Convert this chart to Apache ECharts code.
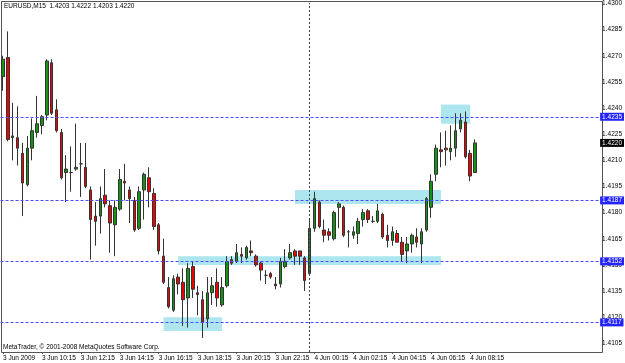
<!DOCTYPE html>
<html><head><meta charset="utf-8">
<script src="https://cdn.jsdelivr.net/npm/echarts@6/dist/echarts.min.js"></script>
<style>html,body{margin:0;padding:0;background:#fff}#c{width:625px;height:363px}</style>
</head><body><div id="c"></div>
<script>
const symbol = 'EURUSD,M15';
const startLabel = '3 Jun 2009';
const copyright = 'MetaTrader, \u00a9 2001-2008 MetaQuotes Software Corp.';

const opens = [1.4258,1.4269,1.4223,1.4223,1.4214,1.4196,1.4217,1.4226,1.4230,1.4236,
1.4266,1.4239,1.4226,1.4203,1.4203,1.4205,1.4208,1.4206,1.4193,1.4178,
1.4178,1.4190,1.4184,1.4173,1.4182,1.4198,1.4193,1.4187,1.4171,1.4193,
1.4200,1.4191,1.4173,1.4155,1.4137,1.4124,1.4143,1.4140,1.4131,1.4149,
1.4134,1.4130,1.4119,1.4134,1.4140,1.4127,1.4138,1.4153,1.4152,1.4156,
1.4154,1.4158,1.4155,1.4151,1.4144,1.4145,1.4139,1.4139,1.4149,1.4154,
1.4158,1.4158,1.4154,1.4145,1.4171,1.4186,1.4170,1.4169,1.4165,1.4183,
1.4183,1.4169,1.4167,1.4168,1.4176,1.4181,1.4175,1.4175,1.4179,1.4167,
1.4164,1.4168,1.4163,1.4158,1.4162,1.4166,1.4162,1.4170,1.4183,1.4202,
1.4216,1.4217,1.4215,1.4217,1.4228,1.4232,1.4214,1.4203];
const highs = [1.4270,1.4284,1.4243,1.4241,1.4220,1.4224,1.4234,1.4247,1.4236,1.4268,
1.4268,1.4245,1.4228,1.4213,1.4218,1.4231,1.4220,1.4220,1.4195,1.4186,
1.4195,1.4205,1.4187,1.4187,1.4205,1.4208,1.4195,1.4189,1.4195,1.4203,
1.4206,1.4194,1.4174,1.4165,1.4143,1.4144,1.4145,1.4148,1.4151,1.4152,
1.4138,1.4135,1.4143,1.4143,1.4148,1.4143,1.4155,1.4155,1.4162,1.4160,
1.4161,1.4164,1.4156,1.4152,1.4147,1.4146,1.4143,1.4154,1.4159,1.4162,
1.4159,1.4158,1.4155,1.4176,1.4192,1.4187,1.4176,1.4171,1.4181,1.4186,
1.4184,1.4170,1.4172,1.4177,1.4182,1.4182,1.4178,1.4185,1.4180,1.4173,
1.4172,1.4170,1.4166,1.4166,1.4168,1.4171,1.4171,1.4189,1.4202,1.4219,
1.4226,1.4227,1.4230,1.4237,1.4237,1.4238,1.4216,1.4222];
const lows = [1.4250,1.4221,1.4210,1.4207,1.4178,1.4195,1.4210,1.4223,1.4225,1.4233,
1.4236,1.4226,1.4199,1.4186,1.4192,1.4204,1.4189,1.4194,1.4153,1.4161,
1.4168,1.4183,1.4157,1.4155,1.4181,1.4187,1.4174,1.4169,1.4170,1.4176,
1.4183,1.4170,1.4156,1.4139,1.4125,1.4123,1.4133,1.4115,1.4114,1.4131,
1.4121,1.4108,1.4114,1.4127,1.4126,1.4126,1.4137,1.4150,1.4151,1.4151,
1.4153,1.4155,1.4149,1.4141,1.4139,1.4142,1.4136,1.4137,1.4148,1.4153,
1.4150,1.4150,1.4135,1.4144,1.4169,1.4171,1.4163,1.4164,1.4164,1.4171,
1.4166,1.4160,1.4165,1.4162,1.4172,1.4174,1.4174,1.4174,1.4165,1.4160,
1.4161,1.4163,1.4152,1.4151,1.4157,1.4160,1.4151,1.4169,1.4177,1.4198,
1.4206,1.4207,1.4210,1.4212,1.4226,1.4211,1.4198,1.4203];
const closes = [1.4268,1.4222,1.4224,1.4217,1.4197,1.4217,1.4227,1.4231,1.4235,1.4267,
1.4237,1.4227,1.4200,1.4205,1.4203,1.4206,1.4208,1.4195,1.4176,1.4175,
1.4188,1.4185,1.4174,1.4183,1.4199,1.4197,1.4188,1.4170,1.4192,1.4202,
1.4192,1.4172,1.4158,1.4140,1.4126,1.4142,1.4139,1.4130,1.4148,1.4136,
1.4133,1.4117,1.4134,1.4138,1.4131,1.4137,1.4152,1.4151,1.4157,1.4155,
1.4160,1.4157,1.4150,1.4147,1.4144,1.4143,1.4138,1.4152,1.4152,1.4157,
1.4155,1.4155,1.4141,1.4171,1.4188,1.4172,1.4167,1.4167,1.4180,1.4185,
1.4167,1.4169,1.4169,1.4175,1.4180,1.4176,1.4175,1.4181,1.4166,1.4164,
1.4169,1.4163,1.4156,1.4162,1.4167,1.4163,1.4169,1.4188,1.4198,1.4217,
1.4215,1.4216,1.4217,1.4227,1.4233,1.4212,1.4201,1.4220];

const yTickLabels = ['1.4105','1.4120','1.4135','1.4150','1.4165','1.4180','1.4195','1.4210','1.4225','1.4240','1.4255','1.4270','1.4285','1.4300'];
const levels = [1.4235, 1.4187, 1.4152, 1.4117];
const zoneStart = ['4 Jun 06:45', '3 Jun 23:15', '3 Jun 17:15', '3 Jun 16:30'];
const zoneEnd   = ['4 Jun 08:15', '4 Jun 06:45', '4 Jun 06:45', '3 Jun 19:30'];
const zoneTop   = [1.4242, 1.4193, 1.4155, 1.4120];
const zoneBottom= [1.4231, 1.4185, 1.4150, 1.4112];
const separatorTime = '4 Jun 00:00';

const N_SLOTS = 123;
const times = [];
const t0 = Date.UTC(2009, 5, 3, 8, 15);
for (let i = 0; i < N_SLOTS; i++) {
  const d = new Date(t0 + i * 900000);
  times.push(d.getUTCDate() + ' Jun ' + String(d.getUTCHours()).padStart(2, '0') + ':' + String(d.getUTCMinutes()).padStart(2, '0'));
}
const candles = opens.map((o, i) => [o, closes[i], lows[i], highs[i]]);
const last = opens.length - 1;
const header = symbol + '  ' + [opens[last], highs[last], lows[last], closes[last]].map(v => v.toFixed(4)).join(' ');

const FONT = '"Liberation Sans", Arial, sans-serif';
const FS = 6.5;
const lblBase = {fontFamily: FONT, fontSize: FS, color: '#000'};

const chart = echarts.init(document.getElementById('c'), null, {renderer: 'canvas', width: 625, height: 363});
const showIdx = (i) => i % 8 === 0 && i <= last;

const priceLabel = (val, bg) => ({show: true, position: 'end', distance: 1, formatter: () => val.toFixed(4),
  backgroundColor: bg, color: '#fff', padding: [1, 2, 0, 2], fontFamily: FONT, fontSize: FS});

const lineData = levels.map(l => ({
  yAxis: l,
  lineStyle: {color: '#4b4bff', type: [3, 2], width: 1},
  label: priceLabel(l, '#2323ff')
}));
lineData.push({yAxis: closes[last], lineStyle: {color: 'rgba(0,0,0,0)', width: 1}, label: priceLabel(closes[last], '#000')});
lineData.push({xAxis: separatorTime, lineStyle: {color: '#444', type: [2, 2], width: 1}, label: {show: false}});

chart.setOption({
  animation: false,
  backgroundColor: '#fff',
  title: [
    {text: header, left: 4, top: 3, padding: 0, textStyle: Object.assign({fontWeight: 'normal'}, lblBase)},
    {text: copyright, left: 3, top: 344, padding: 0, textStyle: Object.assign({fontWeight: 'normal'}, lblBase)}
  ],
  grid: {left: -0.5, right: 21.5, top: 1.5, bottom: 11},
  xAxis: {
    type: 'category', data: times, boundaryGap: true,
    axisLine: {show: false},
    axisTick: {show: true, alignWithLabel: true, length: 2, interval: showIdx, lineStyle: {color: '#555'}},
    axisLabel: Object.assign({interval: showIdx, align: 'left', margin: 3,
      formatter: (v, i) => i === 0 ? startLabel : v}, lblBase),
    splitLine: {show: false}
  },
  yAxis: {
    type: 'value', position: 'right', min: 1.41, max: 1.43005, interval: 0.0005,
    axisLine: {show: false}, axisTick: {show: false}, splitLine: {show: false},
    axisLabel: Object.assign({margin: 3, formatter: v => {
      const s = v.toFixed(4); return yTickLabels.indexOf(s) >= 0 ? s : '';
    }}, lblBase)
  },
  graphic: [{type: 'rect', z: 0, silent: true, shape: {x: 1.5, y: 1.5, width: 601, height: 351},
    style: {fill: null, stroke: '#555', lineWidth: 1}}],
  series: [
    {type: 'line', data: [], z: 1, silent: true,
      markArea: {silent: true, itemStyle: {color: '#aee6ef', opacity: 1},
        data: zoneStart.map((s, i) => [{xAxis: s, yAxis: zoneTop[i]}, {xAxis: zoneEnd[i], yAxis: zoneBottom[i]}])}},
    {type: 'candlestick', data: candles, z: 3, barWidth: 3,
      itemStyle: {color: '#139513', color0: '#f00000', borderColor: '#333', borderColor0: '#333', borderColorDoji: '#333', borderWidth: 1},
      markLine: {silent: true, symbol: ['none', 'none'], animation: false, precision: 4, data: lineData}}
  ]
});
</script></body></html>
